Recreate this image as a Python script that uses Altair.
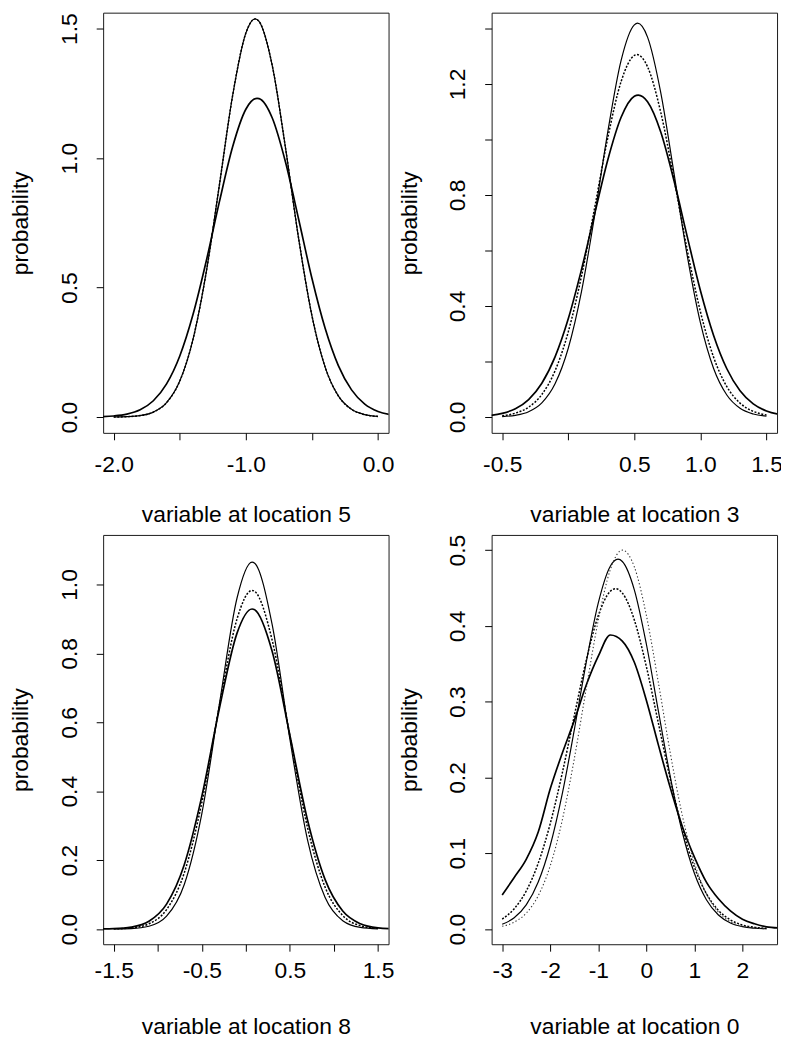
import altair as alt
import pandas as pd

FONT = "Liberation Sans"
FS = 23

# ---------------- Panel 1: variable at location 5 ----------------
p1_tall_x = [-2.0, -1.9, -1.8, -1.7, -1.6, -1.5, -1.4, -1.3, -1.2, -1.1, -1.0, -0.93,
             -0.9, -0.8, -0.7, -0.6, -0.5, -0.4, -0.3, -0.2, -0.1, 0.0]
p1_tall_y = [0.0003, 0.0015, 0.0057, 0.0192, 0.0557, 0.139, 0.300, 0.559, 0.897, 1.242, 1.483, 1.538,
             1.528, 1.357, 1.040, 0.688, 0.392, 0.193, 0.0817, 0.0299, 0.0094, 0.0026]
p1_wide_x = [-2.1, -2.0, -1.9, -1.8, -1.7, -1.6, -1.5, -1.4, -1.3, -1.2, -1.1, -1.0, -0.915,
             -0.9, -0.8, -0.7, -0.6, -0.5, -0.4, -0.3, -0.2, -0.1, 0.0, 0.1]
p1_wide_y = [0.0014, 0.0042, 0.0114, 0.0282, 0.0630, 0.128, 0.236, 0.396, 0.602, 0.832, 1.044, 1.189, 1.231,
             1.230, 1.155, 0.985, 0.763, 0.536, 0.343, 0.199, 0.105, 0.050, 0.0217, 0.0086]

# ---------------- Panel 2: variable at location 3 ----------------
p2_tall_x = [-0.5, -0.4, -0.3, -0.2, -0.1, 0.0, 0.1, 0.2, 0.3, 0.4, 0.5, 0.525,
             0.6, 0.7, 0.8, 0.9, 1.0, 1.1, 1.2, 1.3, 1.4, 1.5]
p2_tall_y = [0.0018, 0.0063, 0.0191, 0.0509, 0.1197, 0.2478, 0.452, 0.727, 1.030, 1.285, 1.413, 1.419,
             1.369, 1.169, 0.879, 0.5825, 0.340, 0.1748, 0.0793, 0.0316, 0.0111, 0.0034]
p2_dot_x = [-0.5, -0.4, -0.3, -0.2, -0.1, 0.0, 0.1, 0.2, 0.3, 0.4, 0.5, 0.52,
            0.6, 0.7, 0.8, 0.9, 1.0, 1.1, 1.2, 1.3, 1.4, 1.5]
p2_dot_y = [0.0050, 0.0140, 0.0356, 0.0812, 0.1666, 0.3068, 0.5075, 0.7546, 1.008, 1.209, 1.303, 1.306,
            1.262, 1.098, 0.858, 0.6025, 0.380, 0.2155, 0.1097, 0.0502, 0.0206, 0.0076]
p2_wide_x = [-0.6, -0.5, -0.4, -0.3, -0.2, -0.1, 0.0, 0.1, 0.2, 0.3, 0.4, 0.5, 0.53,
             0.6, 0.7, 0.8, 0.9, 1.0, 1.1, 1.2, 1.3, 1.4, 1.5, 1.6]
p2_wide_y = [0.0053, 0.0131, 0.0300, 0.0631, 0.122, 0.2168, 0.354, 0.531, 0.732, 0.928, 1.080, 1.156, 1.16,
             1.136, 1.027, 0.852, 0.651, 0.456, 0.294, 0.174, 0.0947, 0.0474, 0.0218, 0.0092]

# ---------------- Panel 3: variable at location 8 ----------------
p3_x = [-1.5, -1.3, -1.1, -0.9, -0.7, -0.5, -0.3, -0.1, 0.07, 0.1, 0.3, 0.5, 0.7, 0.9, 1.1, 1.3, 1.5]
p3_tall_y = [0.0002, 0.0013, 0.0081, 0.0373, 0.1288, 0.3346, 0.654, 0.961, 1.065, 1.062,
             0.882, 0.551, 0.259, 0.0915, 0.0243, 0.0049, 0.0007]
p3_dot_y = [0.0006, 0.0033, 0.0154, 0.0565, 0.1624, 0.3666, 0.6487, 0.9004, 0.983, 0.9803,
            0.8371, 0.5607, 0.2946, 0.1214, 0.0392, 0.0099, 0.0020]
p3_wide_x = [-1.7, -1.5, -1.3, -1.1, -0.9, -0.7, -0.5, -0.3, -0.1, 0.07, 0.1, 0.3, 0.5, 0.7, 0.9,
             1.1, 1.3, 1.5, 1.7]
p3_wide_y = [0.0002, 0.0012, 0.0057, 0.0227, 0.0725, 0.1861, 0.385, 0.641, 0.859, 0.929, 0.927,
             0.805, 0.5627, 0.3166, 0.1435, 0.0523, 0.0154, 0.0036, 0.0007]

# ---------------- Panel 4: variable at location 0 ----------------
p4_thick_x = [-3.0, -2.75, -2.5, -2.25, -2.0, -1.75, -1.5, -1.25, -1.0, -0.75, -0.5, -0.25,
              0.0, 0.25, 0.5, 0.75, 1.0, 1.25, 1.5, 1.75, 2.0, 2.25, 2.5, 2.75]
p4_thick_y = [0.045, 0.068, 0.092, 0.128, 0.185, 0.232, 0.275, 0.322, 0.360, 0.388, 0.380, 0.352,
              0.302, 0.243, 0.186, 0.135, 0.095, 0.062, 0.040, 0.024, 0.013, 0.007, 0.003, 0.0015]
p4_thin_x = [-3.0, -2.75, -2.5, -2.25, -2.0, -1.75, -1.5, -1.25, -1.0, -0.75, -0.59, -0.5, -0.25,
             0.0, 0.25, 0.5, 0.75, 1.0, 1.25, 1.5, 1.75, 2.0, 2.25, 2.5]
p4_thin_y = [0.0063, 0.0149, 0.0319, 0.0621, 0.1103, 0.1783, 0.2626, 0.3523, 0.4303, 0.4787, 0.488,
             0.4850, 0.4476, 0.3761, 0.2878, 0.2006, 0.1274, 0.0736, 0.0387, 0.0186, 0.0081, 0.0032,
             0.0012, 0.0004]
p4_dot_x = [-3.0, -2.75, -2.5, -2.25, -2.0, -1.75, -1.5, -1.25, -1.0, -0.75, -0.64, -0.5, -0.25,
            0.0, 0.25, 0.5, 0.75, 1.0, 1.25, 1.5, 1.75, 2.0, 2.25, 2.5]
p4_dot_y = [0.0132, 0.0268, 0.0502, 0.0869, 0.1391, 0.2058, 0.2811, 0.3547, 0.4136, 0.4456, 0.449,
            0.4435, 0.4078, 0.3464, 0.2719, 0.1972, 0.1321, 0.0818, 0.0467, 0.0247, 0.0121, 0.0054,
            0.0023, 0.0009]
p4_dot2_x = [-3.0, -2.75, -2.5, -2.25, -2.0, -1.75, -1.5, -1.25, -1.0, -0.75, -0.5, -0.25,
             0.0, 0.25, 0.5, 0.75, 1.0, 1.25, 1.5, 1.75, 2.0, 2.25, 2.5]
p4_dot2_y = [0.0036, 0.0091, 0.0210, 0.0440, 0.0835, 0.1437, 0.2245, 0.3177, 0.4076, 0.4741, 0.5,
             0.4779, 0.4141, 0.3253, 0.2316, 0.1495, 0.0875, 0.0464, 0.0223, 0.0097, 0.0038, 0.0014,
             0.0004]

# ---------------- axes ----------------
p1_xticks = [-2.0, -1.5, -1.0, -0.5, 0.0]
p1_xlabels = {-2.0: "-2.0", -1.0: "-1.0", 0.0: "0.0"}
p1_yticks = [0.0, 0.5, 1.0, 1.5]
p1_ylabels = {0.0: "0.0", 0.5: "0.5", 1.0: "1.0", 1.5: "1.5"}

p2_xticks = [-0.5, 0.0, 0.5, 1.0, 1.5]
p2_xlabels = {-0.5: "-0.5", 0.5: "0.5", 1.0: "1.0", 1.5: "1.5"}
p2_yticks = [0.0, 0.2, 0.4, 0.6, 0.8, 1.0, 1.2, 1.4]
p2_ylabels = {0.0: "0.0", 0.4: "0.4", 0.8: "0.8", 1.2: "1.2"}

p3_xticks = [-1.5, -1.0, -0.5, 0.0, 0.5, 1.0, 1.5]
p3_xlabels = {-1.5: "-1.5", -0.5: "-0.5", 0.5: "0.5", 1.5: "1.5"}
p3_yticks = [0.0, 0.2, 0.4, 0.6, 0.8, 1.0]
p3_ylabels = {0.0: "0.0", 0.2: "0.2", 0.4: "0.4", 0.6: "0.6", 0.8: "0.8", 1.0: "1.0"}

p4_xticks = [-3, -2, -1, 0, 1, 2]
p4_xlabels = {-3: "-3", -2: "-2", -1: "-1", 0: "0", 1: "1", 2: "2"}
p4_yticks = [0.0, 0.1, 0.2, 0.3, 0.4, 0.5]
p4_ylabels = {0.0: "0.0", 0.1: "0.1", 0.2: "0.2", 0.3: "0.3", 0.4: "0.4", 0.5: "0.5"}

STYLES = {
    "thin": dict(color="black", strokeWidth=1.2),
    "thick": dict(color="black", strokeWidth=1.7),
    "dot": dict(color="black", strokeWidth=1.5, strokeDash=[2.0, 1.6]),
    "dot2": dict(color="#333333", strokeWidth=1.1, strokeDash=[1.3, 2.3]),
}

PW = 288


def label_expr(labels):
    expr = "''"
    for v, t in reversed(list(labels.items())):
        expr = f"datum.value == {v} ? '{t}' : ({expr})"
    return expr


def panel(curves, xdom, ydom, xticks, xlabels, yticks, ylabels, xtitle, h, xlab_pad, xtitle_y):
    frames = []
    for name, style, xs, ys in curves:
        frames.append(pd.DataFrame({"x": xs, "y": ys, "curve": name}))
    df = pd.concat(frames, ignore_index=True)
    base = alt.Chart(df).encode(
        x=alt.X("x:Q", scale=alt.Scale(domain=xdom, nice=False, zero=False),
                axis=alt.Axis(values=xticks, labelExpr=label_expr(xlabels), title=xtitle,
                              labelAngle=0, labelAlign="center", labelBaseline="alphabetic",
                              labelPadding=xlab_pad, titleX=PW / 2, titleY=xtitle_y,
                              titleAlign="center", titleBaseline="alphabetic")),
        y=alt.Y("y:Q", scale=alt.Scale(domain=ydom, nice=False, zero=False),
                axis=alt.Axis(values=yticks, labelExpr=label_expr(ylabels), title="probability",
                              labelAngle=270, labelAlign="center", labelBaseline="alphabetic",
                              labelPadding=20, titleAngle=270, titleAlign="center",
                              titleBaseline="alphabetic", titleX=-76, titleY=h / 2)),
    )
    layers = []
    for name, style, xs, ys in curves:
        layers.append(
            base.transform_filter(alt.datum.curve == name)
            .mark_line(clip=True, interpolate="monotone", **STYLES[style])
        )
    return alt.layer(*layers).properties(width=PW, height=h)


c1 = panel([("wide", "thick", p1_wide_x, p1_wide_y),
            ("tall", "thin", p1_tall_x, p1_tall_y),
            ("dot", "dot", p1_tall_x, p1_tall_y)],
           [-2.08, 0.08], [-0.061, 1.562], p1_xticks, p1_xlabels, p1_yticks, p1_ylabels,
           "variable at location 5", 424, 32, 89)
c2 = panel([("wide", "thick", p2_wide_x, p2_wide_y),
            ("dot", "dot", p2_dot_x, p2_dot_y),
            ("tall", "thin", p2_tall_x, p2_tall_y)],
           [-0.58, 1.58], [-0.057, 1.457], p2_xticks, p2_xlabels, p2_yticks, p2_ylabels,
           "variable at location 3", 424, 32, 89)
c3 = panel([("wide", "thick", p3_wide_x, p3_wide_y),
            ("dot", "dot", p3_x, p3_dot_y),
            ("tall", "thin", p3_x, p3_tall_y)],
           [-1.62, 1.62], [-0.044, 1.144], p3_xticks, p3_xlabels, p3_yticks, p3_ylabels,
           "variable at location 8", 413, 27, 90)
c4 = panel([("thick", "thick", p4_thick_x, p4_thick_y),
            ("dot", "dot", p4_dot_x, p4_dot_y),
            ("thin", "thin", p4_thin_x, p4_thin_y),
            ("dot2", "dot2", p4_dot2_x, p4_dot2_y)],
           [-3.22, 2.72], [-0.02, 0.52], p4_xticks, p4_xlabels, p4_yticks, p4_ylabels,
           "variable at location 0", 413, 27, 90)

chart = (
    alt.concat(c1, c2, c3, c4, columns=2, spacing=alt.RowColnumber(row=103, column=104),
               bounds="flush")
    .properties(autosize=alt.AutoSizeParams(type="none"),
                padding={"left": 96, "top": 0, "right": 684, "bottom": 1040},
                background="white")
    .configure_view(stroke="#1a1a1a", strokeWidth=1)
    .configure_axis(domain=False, grid=False, ticks=True, tickSize=7, tickColor="black",
                    tickWidth=1, labelFont=FONT, labelFontSize=FS, labelColor="black",
                    titleFont=FONT, titleFontSize=FS, titleColor="black", titleFontWeight="normal",
                    labelFlush=False, labelOverlap=False)
)

chart.save("out.html", embed_options={"renderer": "svg", "actions": False})
